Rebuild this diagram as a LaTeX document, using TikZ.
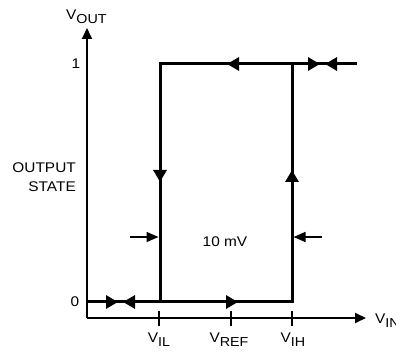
\documentclass[tikz,border=0pt]{standalone}
\usepackage{fontspec}
\setmainfont{Liberation Sans}
\usetikzlibrary{arrows.meta}
\tikzset{
    axis line/.style={line width=1.9pt, -{Triangle[length=11pt, width=10pt]}},
    loop line/.style={line width=3pt, line join=miter},
    flow arrow/.style={line width=3pt, -{Triangle[length=12pt, width=13pt]}},
    gap arrow/.style={line width=1.4pt, -{Triangle[length=12pt, width=10pt]}},
    tick mark/.style={line width=1.7pt},
    axis label/.style={font=\fontsize{14}{16}\selectfont, xscale=1.1, inner sep=0pt}
}
\newcommand{\vsub}[1]{V\raisebox{-4pt}{\fontsize{13}{13}\selectfont #1}}

\begin{document}
\begin{tikzpicture}[x=1pt, y=1pt]
    \useasboundingbox (0,0) rectangle (396,-352);

    % Axes
    \coordinate (origin) at (87,-318);
    \coordinate (ytip) at (87,-28);
    \coordinate (xtip) at (366,-318);
    \draw[axis line] (origin) -- (ytip);
    \draw[axis line] (origin) -- (xtip);
    \node[axis label, anchor=base west] (vout) at (66,-20) {\vsub{OUT}};
    \node[axis label, anchor=base west] (vin) at (375,-324) {\vsub{IN}};

    % Levels
    \node[axis label] (one) at (76,-64) {1};
    \node[axis label] (zero) at (75,-302) {0};
    \node[axis label, align=right, anchor=east] (state) at (76,-177) {OUTPUT\\[3pt]STATE};

    % Thresholds
    \coordinate (il) at (159,-318);
    \coordinate (ref) at (231,-318);
    \coordinate (ih) at (292,-318);
    \foreach \t in {il,ref,ih}
        \draw[tick mark] ([yshift=7pt]\t) -- ([yshift=-8pt]\t);
    \node[axis label, anchor=base] (vil) at (159,-343) {\vsub{IL}};
    \node[axis label, anchor=base] (vref) at (229,-343) {\vsub{REF}};
    \node[axis label, anchor=base] (vih) at (293,-343) {\vsub{IH}};

    % Hysteresis loop
    \coordinate (lostart) at (87,-302);
    \coordinate (ilbot) at (160,-302);
    \coordinate (iltop) at (160,-64);
    \coordinate (ihbot) at (292,-302);
    \coordinate (ihtop) at (292,-64);
    \coordinate (hiend) at (357,-64);
    \draw[loop line] (lostart) -- (ihbot) -- (ihtop);
    \draw[loop line] (hiend) -- (iltop) -- (ilbot);

    % Direction arrows
    \draw[flow arrow] (100,-302) -- (118,-302);
    \draw[flow arrow] (145,-302) -- (123,-302);
    \draw[flow arrow] (215,-302) -- (238,-302);
    \draw[flow arrow] (250,-64) -- (227,-64);
    \draw[flow arrow] (300,-64) -- (320,-64);
    \draw[flow arrow] (345,-64) -- (325,-64);
    \draw[flow arrow] (160,-160) -- (160,-182);
    \draw[flow arrow] (292,-192) -- (292,-170);

    % Hysteresis width
    \coordinate (gapl) at (130,-237);
    \coordinate (gapr) at (322,-237);
    \draw[gap arrow] (gapl) -- (158.5,-237);
    \draw[gap arrow] (gapr) -- (293.5,-237);
    \node[axis label] (width) at (225,-242) {10 mV};
\end{tikzpicture}
\end{document}
